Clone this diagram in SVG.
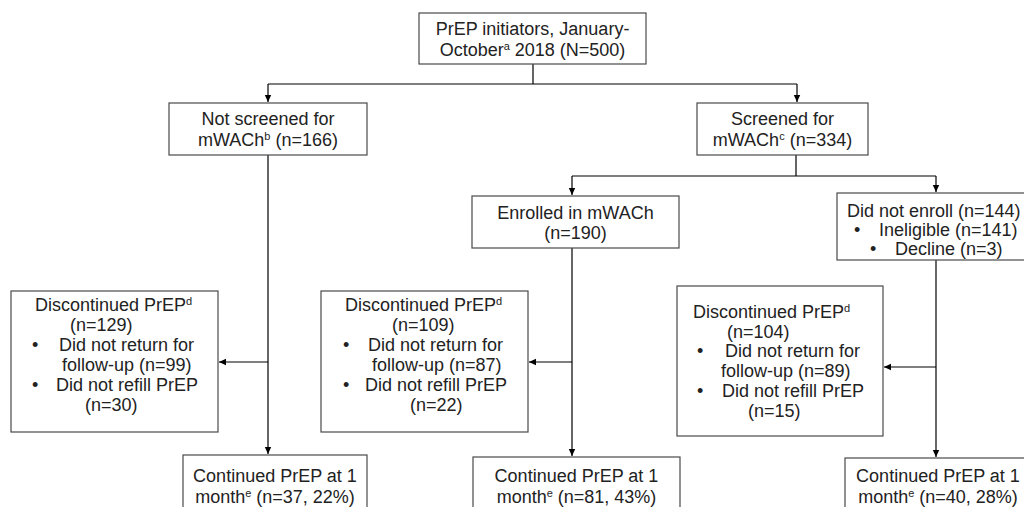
<svg xmlns="http://www.w3.org/2000/svg" width="1024" height="507" viewBox="0 0 1024 507">
<defs>
<marker id="arr" markerWidth="9" markerHeight="9" refX="7" refY="4" orient="auto" markerUnits="userSpaceOnUse">
<path d="M0,0.8 L7,4 L0,7.2 z" fill="#000"/>
</marker>
<style>
.box{fill:#fff;stroke:#4a4a4a;stroke-width:1.2}
.t{font-family:"Liberation Sans",Arial,sans-serif;font-size:18px;fill:#222}
.c{text-anchor:middle}
.ln{fill:none;stroke:#000;stroke-width:1.2}
.s{font-size:11px}
</style>
</defs>
<rect width="1024" height="507" fill="#fff"/>
<g id="connectors">
<path class="ln" d="M533,64 V84 M268,84 H797"/>
<path class="ln" d="M268,84 V102" marker-end="url(#arr)"/>
<path class="ln" d="M797,84 V102" marker-end="url(#arr)"/>
<path class="ln" d="M796,155 V176 M572,176 H936"/>
<path class="ln" d="M572,176 V195" marker-end="url(#arr)"/>
<path class="ln" d="M936,176 V192" marker-end="url(#arr)"/>
<path class="ln" d="M268,155 V454" marker-end="url(#arr)"/>
<path class="ln" d="M268,362 H219" marker-end="url(#arr)"/>
<path class="ln" d="M572,248 V456" marker-end="url(#arr)"/>
<path class="ln" d="M572,362 H529" marker-end="url(#arr)"/>
<path class="ln" d="M936,260 V457" marker-end="url(#arr)"/>
<path class="ln" d="M936,367 H884" marker-end="url(#arr)"/>
</g>
<g id="n-initiators">
<rect class="box" x="419" y="13" width="227" height="51"/>
<text class="t c" x="532.5" y="35">PrEP initiators, January-</text>
<text class="t c" x="532.5" y="56">October<tspan class="s" dy="-6">a</tspan><tspan dy="6"> 2018 (N=500)</tspan></text>
</g>
<g id="n-notscreened">
<rect class="box" x="169" y="103" width="198" height="52"/>
<text class="t c" x="268" y="125">Not screened for</text>
<text class="t c" x="268" y="146">mWACh<tspan class="s" dy="-6">b</tspan><tspan dy="6"> (n=166)</tspan></text>
</g>
<g id="n-screened">
<rect class="box" x="697" y="103" width="171" height="52"/>
<text class="t c" x="782.5" y="125">Screened for</text>
<text class="t c" x="782.5" y="146">mWACh<tspan class="s" dy="-6">c</tspan><tspan dy="6"> (n=334)</tspan></text>
</g>
<g id="n-enrolled">
<rect class="box" x="472" y="196" width="207" height="52"/>
<text class="t c" x="575.5" y="219">Enrolled in mWACh</text>
<text class="t c" x="575.5" y="239">(n=190)</text>
</g>
<g id="n-notenroll">
<rect class="box" x="837" y="193" width="200" height="67"/>
<text class="t" x="847" y="217">Did not enroll (n=144)</text>
<text class="t" x="854" y="236">•</text>
<text class="t" x="879" y="236">Ineligible (n=141)</text>
<text class="t" x="870" y="255">•</text>
<text class="t" x="895" y="255">Decline (n=3)</text>
</g>
<g id="n-disc1">
<rect class="box" x="11" y="291" width="207" height="141"/>
<text class="t" x="35" y="311">Discontinued PrEP<tspan class="s" dy="-6">d</tspan></text>
<text class="t" x="70" y="331">(n=129)</text>
<text class="t" x="32" y="351">•</text>
<text class="t" x="59" y="351">Did not return for</text>
<text class="t" x="62" y="371">follow-up (n=99)</text>
<text class="t" x="32" y="391">•</text>
<text class="t" x="56" y="391">Did not refill PrEP</text>
<text class="t" x="85" y="411">(n=30)</text>
</g>
<g id="n-disc2">
<rect class="box" x="321" y="291" width="207" height="141"/>
<text class="t" x="345" y="311">Discontinued PrEP<tspan class="s" dy="-6">d</tspan></text>
<text class="t" x="392" y="331">(n=109)</text>
<text class="t" x="343" y="351">•</text>
<text class="t" x="368" y="351">Did not return for</text>
<text class="t" x="372" y="371">follow-up (n=87)</text>
<text class="t" x="343" y="391">•</text>
<text class="t" x="365" y="391">Did not refill PrEP</text>
<text class="t" x="410" y="411">(n=22)</text>
</g>
<g id="n-disc3">
<rect class="box" x="677" y="286" width="206" height="150"/>
<text class="t" x="693" y="318">Discontinued PrEP<tspan class="s" dy="-6">d</tspan></text>
<text class="t" x="727" y="338">(n=104)</text>
<text class="t" x="697" y="357">•</text>
<text class="t" x="725" y="357">Did not return for</text>
<text class="t" x="721" y="377">follow-up (n=89)</text>
<text class="t" x="697" y="397">•</text>
<text class="t" x="722" y="397">Did not refill PrEP</text>
<text class="t" x="748" y="417">(n=15)</text>
</g>
<g id="n-cont1">
<rect class="box" x="183" y="455" width="184" height="60"/>
<text class="t c" x="275" y="482">Continued PrEP at 1</text>
<text class="t c" x="275" y="503">month<tspan class="s" dy="-6">e</tspan><tspan dy="6"> (n=37, 22%)</tspan></text>
</g>
<g id="n-cont2">
<rect class="box" x="473" y="457" width="207" height="60"/>
<text class="t c" x="576.5" y="482">Continued PrEP at 1</text>
<text class="t c" x="576.5" y="503">month<tspan class="s" dy="-6">e</tspan><tspan dy="6"> (n=81, 43%)</tspan></text>
</g>
<g id="n-cont3">
<rect class="box" x="845" y="458" width="190" height="60"/>
<text class="t c" x="938" y="482">Continued PrEP at 1</text>
<text class="t c" x="938" y="503">month<tspan class="s" dy="-6">e</tspan><tspan dy="6"> (n=40, 28%)</tspan></text>
</g>
</svg>
